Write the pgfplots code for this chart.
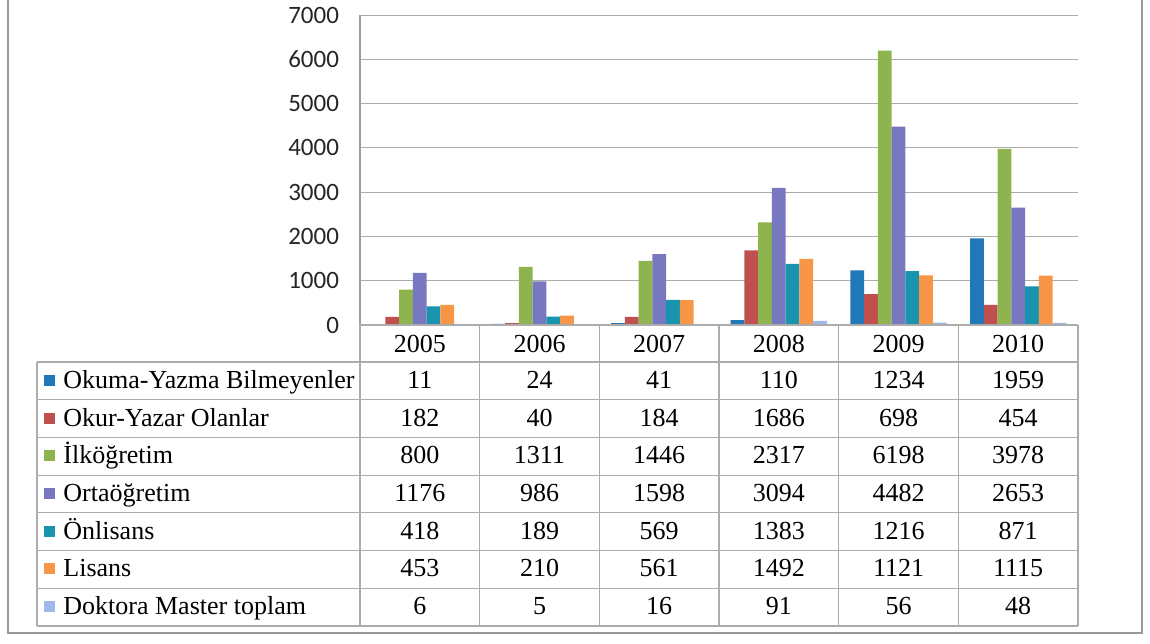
\documentclass[border=0pt]{standalone}
\usepackage{fontspec}
\setmainfont{Liberation Serif}
\newfontfamily\timesfont{Liberation Serif}
\newfontfamily\calibri{Carlito}
\usepackage{pgfplots}
\usepackage{pgfplotstable}
\pgfplotsset{compat=1.18}
\definecolor{c1}{HTML}{2078B8}
\definecolor{c2}{HTML}{C0504D}
\definecolor{c3}{HTML}{8DB44F}
\definecolor{c4}{HTML}{7878C0}
\definecolor{c5}{HTML}{1A93AE}
\definecolor{c6}{HTML}{F79646}
\definecolor{c7}{HTML}{9DB9E9}
\pgfplotstableread{
idx year a b c d e f g
0 2005 11 182 800 1176 418 453 6
1 2006 24 40 1311 986 189 210 5
2 2007 41 184 1446 1598 569 561 16
3 2008 110 1686 2317 3094 1383 1492 91
4 2009 1234 698 6198 4482 1216 1121 56
5 2010 1959 454 3978 2653 871 1115 48
}\data
\begin{document}
\begin{tikzpicture}
\path[use as bounding box] (0,0) rectangle (575pt,-321.5pt);
\begin{axis}[
  at={(180pt,-162.5pt)}, anchor=south west,
  width=359pt, height=155pt, scale only axis,
  xmin=-0.5, xmax=5.5, ymin=0, ymax=7000,
  ybar=0pt, bar width=0.115,
  axis x line=none, axis y line*=left,
  y axis line style={-, draw=gray!75, line width=0.6pt},
  ytick={0,1000,...,7000},
  ymajorgrids, grid style={gray!65, line width=0.5pt},
  major tick length=0pt,
  /pgf/number format/assume math mode=true,
  /pgf/number format/1000 sep={},
  yticklabel style={font=\calibri\fontsize{12.5}{15}\selectfont, xshift=-7pt, text=black!85},
]
\addplot[fill=c1, draw=none] table[x=idx, y=a]{\data};
\addplot[fill=c2, draw=none] table[x=idx, y=b]{\data};
\addplot[fill=c3, draw=none] table[x=idx, y=c]{\data};
\addplot[fill=c4, draw=none] table[x=idx, y=d]{\data};
\addplot[fill=c5, draw=none] table[x=idx, y=e]{\data};
\addplot[fill=c6, draw=none] table[x=idx, y=f]{\data};
\addplot[fill=c7, draw=none] table[x=idx, y=g]{\data};
\end{axis}
\begin{scope}[x=0.5pt, y=-0.5pt, font=\timesfont\fontsize{13}{15}\selectfont]
  % table grid
  \foreach \k in {0,...,7} {
    \draw[gray!65, line width=0.6pt] (37,{362+37.7*\k}) -- (1078,{362+37.7*\k});
  }
  \draw[gray!65, line width=0.6pt] (360,325) -- (1078,325);
  \draw[gray!65, line width=0.6pt] (37,362) -- (37,625.9);
  \foreach \k in {0,...,6} {
    \draw[gray!65, line width=0.6pt] ({360+119.67*\k},325) -- ({360+119.67*\k},625.9);
  }
  % years
  \foreach \r in {0,...,5} {
    \pgfplotstablegetelem{\r}{year}\of\data
    \node[anchor=base, inner sep=0, font=\timesfont\fontsize{13}{15}\selectfont] at ({360+119.67*(\r+0.5)}, 352) {\pgfplotsretval};
  }
  % series names and keys
  \foreach \nm/\col [count=\i from 0] in {Okuma-Yazma Bilmeyenler/c1, Okur-Yazar Olanlar/c2, İlköğretim/c3, Ortaöğretim/c4, Önlisans/c5, Lisans/c6, Doktora Master toplam/c7} {
    \fill[\col] (44,{362+37.7*(\i+0.5)-6}) rectangle (55,{362+37.7*(\i+0.5)+5});
    \node[anchor=base west, inner sep=0, font=\timesfont\fontsize{13}{15}\selectfont] at (63,{362+37.7*(\i+0.5)+7.5}) {\nm};
  }
  % values
  \foreach \c [count=\i from 0] in {a,b,c,d,e,f,g} {
    \foreach \r in {0,...,5} {
      \pgfplotstablegetelem{\r}{\c}\of\data
      \node[anchor=base, inner sep=0, font=\timesfont\fontsize{13}{15}\selectfont] at ({360+119.67*(\r+0.5)}, {362+37.7*(\i+0.5)+7.5}) {\pgfplotsretval};
    }
  }
  % outer frame
  \draw[gray!80, line width=0.8pt] (8,0) -- (8,633) -- (1142,633) -- (1142,0);
\end{scope}
\end{tikzpicture}
\end{document}
